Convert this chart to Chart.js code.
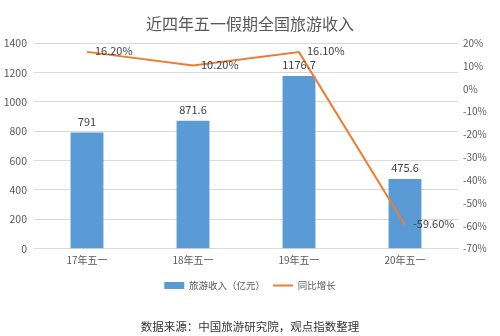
<!DOCTYPE html>
<html>
<head>
<meta charset="utf-8">
<script src="https://cdn.jsdelivr.net/npm/chart.js@4"></script>
<style>
  html, body { margin: 0; padding: 0; background: #fff; }
  #wrap { width: 500px; height: 336px; }
</style>
</head>
<body>
<div id="wrap"><canvas id="chart" width="500" height="336"></canvas></div>
<script>
// Holiday tourism revenue, last four May Day breaks
const categories = ['17年五一', '18年五一', '19年五一', '20年五一'];
const revenue = [791, 871.6, 1176.7, 475.6];        // 亿元
const growth = [16.2, 10.2, 16.1, -59.6];           // %
const growthLabels = ['16.20%', '10.20%', '16.10%', '-59.60%'];

const FONT = "'Noto Sans CJK SC', 'Noto Sans', sans-serif";
const GREY = '#595959';

// Draws value labels: above each bar, to the right of each line point
const valueLabels = {
    id: 'valueLabels',
    afterDatasetsDraw(chart) {
        const ctx = chart.ctx;
        ctx.save();
        ctx.font = `11px ${FONT}`;
        ctx.fillStyle = '#404040';
        ctx.textBaseline = 'middle';

        const bars = chart.getDatasetMeta(0);
        ctx.textAlign = 'center';
        bars.data.forEach((bar, i) => {
            ctx.fillText(String(revenue[i]), bar.x, bar.y - 11);
        });

        const line = chart.getDatasetMeta(1);
        ctx.textAlign = 'left';
        line.data.forEach((pt, i) => {
            ctx.fillText(growthLabels[i], pt.x + 8, pt.y - 1);
        });
        ctx.restore();
    }
};

new Chart(document.getElementById('chart'), {
    data: {
        labels: categories,
        datasets: [
            {
                type: 'bar',
                label: '旅游收入（亿元）',
                data: revenue,
                yAxisID: 'y',
                backgroundColor: '#5B9BD5',
                categoryPercentage: 1,
                barPercentage: 0.31,
                pointStyle: 'rect',
                order: 2
            },
            {
                type: 'line',
                label: '同比增长',
                data: growth,
                yAxisID: 'y1',
                borderColor: '#ED7D31',
                backgroundColor: '#ED7D31',
                borderWidth: 2,
                pointRadius: 0,
                tension: 0,
                pointStyle: 'line',
                order: 1
            }
        ]
    },
    options: {
        responsive: false,
        animation: false,
        layout: { padding: 0 },
        plugins: {
            title: {
                display: true,
                text: '近四年五一假期全国旅游收入',
                color: GREY,
                font: { family: FONT, size: 16, weight: 'normal' },
                padding: { top: 14, bottom: 10 }
            },
            subtitle: {
                display: true,
                position: 'bottom',
                text: '数据来源：中国旅游研究院，观点指数整理',
                color: '#333333',
                font: { family: FONT, size: 11.5, weight: 'normal' },
                padding: { top: 20, bottom: 2 }
            },
            legend: {
                position: 'bottom',
                labels: {
                    usePointStyle: true,
                    pointStyleWidth: 20,
                    boxHeight: 7,
                    color: GREY,
                    font: { family: FONT, size: 9.5 },
                    padding: 8,
                    sort: (a, b) => a.datasetIndex - b.datasetIndex
                }
            },
            tooltip: { enabled: false }
        },
        scales: {
            x: {
                grid: { display: false, drawTicks: false },
                border: { color: '#D9D9D9' },
                ticks: {
                    color: GREY,
                    font: { family: FONT, size: 10 },
                    padding: 6
                }
            },
            y: {
                position: 'left',
                min: 0,
                max: 1400,
                afterFit: s => { s.width = 34; },
                grid: { color: '#D9D9D9', drawTicks: false },
                border: { display: false },
                ticks: {
                    stepSize: 200,
                    color: GREY,
                    font: { family: FONT, size: 10.5 },
                    padding: 7,
                    callback: v => String(v)
                }
            },
            y1: {
                position: 'right',
                min: -70,
                max: 20,
                afterFit: s => { s.width = 42; },
                grid: { display: false, drawTicks: false },
                border: { display: false },
                ticks: {
                    stepSize: 10,
                    color: GREY,
                    font: { family: FONT, size: 10 },
                    padding: 5,
                    callback: v => v + '%'
                }
            }
        }
    },
    plugins: [valueLabels]
});
</script>
</body>
</html>
